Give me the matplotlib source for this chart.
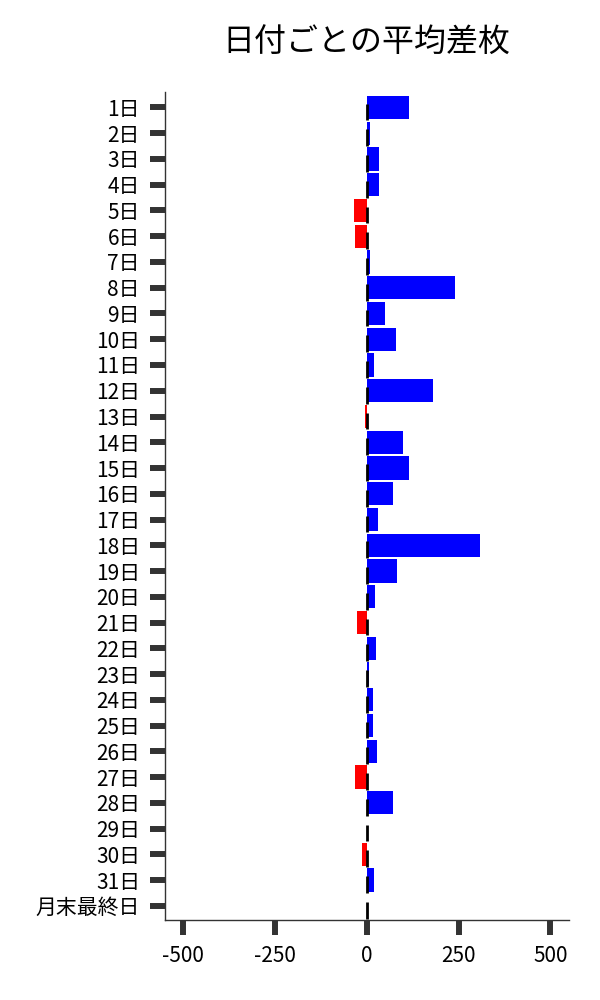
import matplotlib
matplotlib.use("Agg")
import matplotlib.pyplot as plt

plt.rcParams['font.family'] = ['Noto Sans CJK JP', 'DejaVu Sans']

days = [f"{i}日" for i in range(1, 32)] + ["月末最終日"]
values = [115, 8, 33, 33, -34, -32, 8, 240, 50, 80, 19, 180, -4, 99, 115, 71,
          31, 308, 82, 23, -26, 25, 5, 17, 17, 28, -32, 71, -1, -13, 20, 0]
xticks = [-500, -250, 0, 250, 500]

colors = ['#0000ff' if v >= 0 else '#ff0000' for v in values]
pos = list(range(len(days)))

fig = plt.figure(figsize=(6, 10), dpi=100)
ax = fig.add_axes([0.275, 0.08, 0.673, 0.828])

ax.barh(pos, values, height=0.9, color=colors)
ax.vlines([0] * len(pos), [p - 0.15 for p in pos], [p + 0.5 for p in pos],
          color='black', linewidth=2.0, zorder=3)

ax.set_ylim(len(days) - 0.45, -0.6)
ax.set_xlim(-550, 550)
ax.set_yticks(pos)
ax.set_yticklabels(days)
ax.set_xticks(xticks)
ax.set_xticklabels([str(t) for t in xticks])

for s in ['top', 'right']:
    ax.spines[s].set_visible(False)
for s in ['left', 'bottom']:
    ax.spines[s].set_color('#333333')
    ax.spines[s].set_linewidth(1.0)

ax.tick_params(axis='both', length=11, width=4.3, color='#333333',
               labelsize=15, labelcolor='black')
ax.tick_params(axis='y', pad=7)
ax.tick_params(axis='x', pad=7)

fig.text(0.61, 0.957, "日付ごとの平均差枚", ha='center', va='center', fontsize=23)

fig.savefig("out.png", dpi=100)
